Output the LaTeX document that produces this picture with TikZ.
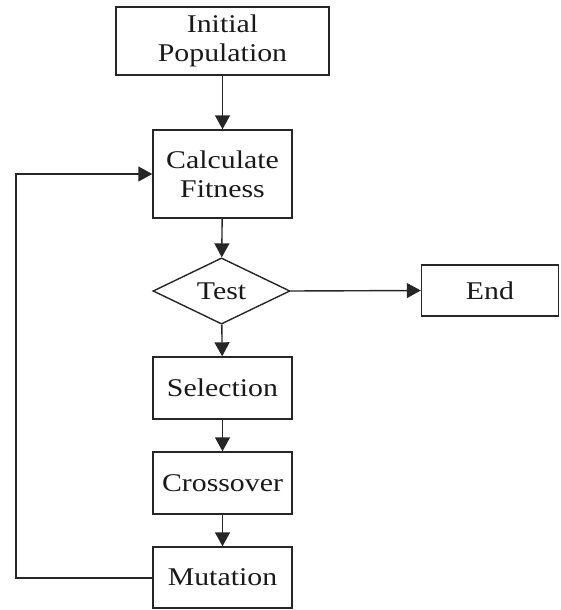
\documentclass[tikz,border=0pt]{standalone}
\usepackage{fontspec}
\setmainfont{Liberation Serif}[FakeStretch=1.17]
\usetikzlibrary{shapes.geometric,arrows.meta}
\begin{document}
\begin{tikzpicture}[x=1pt,y=1pt,
  every node/.style={font=\fontsize{25.5}{29}\selectfont, align=center, text=black!90},
  box/.style={draw=black!85, line width=1.4pt, rectangle, inner sep=0pt},
  decision/.style={draw=black!85, line width=1.4pt, diamond, inner sep=0pt, minimum width=137pt, minimum height=63pt},
  flow/.style={draw=black!85, line width=1.4pt, -{Triangle[length=14pt,width=15pt]}}]
\useasboundingbox (0,0) rectangle (560,-610);
\node[box, minimum width=213pt, minimum height=68pt] (init) at (222.5,-41) {Initial\\Population};
\node[box, minimum width=139pt, minimum height=88pt] (calc) at (222.5,-174) {Calculate\\Fitness};
\node[decision] (test) at (221.5,-291) {Test};
\node[box, minimum width=137pt, minimum height=51pt] (end) at (490,-290.5) {End};
\node[box, minimum width=139pt, minimum height=62pt] (sel) at (222.5,-388) {Selection};
\node[box, minimum width=139pt, minimum height=62pt] (cross) at (222.5,-483) {Crossover};
\node[box, minimum width=139pt, minimum height=61pt] (mut) at (222.5,-577.5) {Mutation};
\coordinate (lb) at (16,-578);
\coordinate (lt) at (16,-174);
\draw[flow] (init) -- (calc);
\draw[flow] (calc) -- (test);
\draw[flow] (test.east) -- (end.west);
\draw[flow] (test) -- (sel);
\draw[flow] (sel) -- (cross);
\draw[flow] (cross) -- (mut);
\draw[flow] (mut.west |- lb) -- (lb) -- (lt) -- (calc.west);
\end{tikzpicture}
\end{document}
